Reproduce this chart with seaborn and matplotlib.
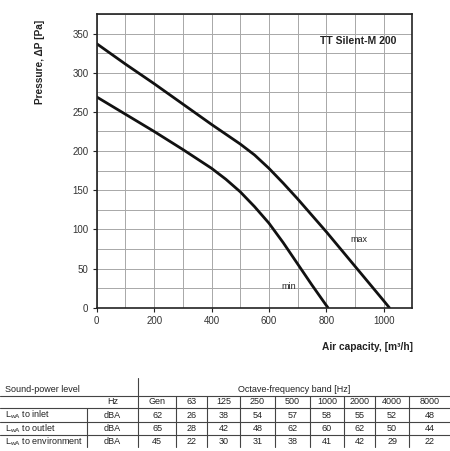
import numpy as np
import pandas as pd
import matplotlib
matplotlib.use("Agg")
import matplotlib.pyplot as plt
from matplotlib.ticker import MultipleLocator
import seaborn as sns

# fan curves
flow_max = [0, 100, 200, 300, 400, 500, 550, 600, 650, 700, 750, 800, 850, 900, 950, 1000, 1020]
pres_max = [337, 311, 286, 260, 234, 209, 195, 178, 159, 139, 118, 97, 75, 53, 31, 9, 0]
flow_min = [0, 100, 200, 300, 400, 450, 500, 550, 600, 650, 700, 750, 800, 806]
pres_min = [269, 247, 225, 202, 178, 164, 148, 129, 108, 83, 56, 29, 3, 0]

# sound power table
bands = ["Gen", "63", "125", "250", "500", "1000", "2000", "4000", "8000"]
row_names = ["to inlet", "to outlet", "to environment"]
lwa_inlet = [62, 26, 38, 54, 57, 58, 55, 52, 48]
lwa_outlet = [65, 28, 42, 48, 62, 60, 62, 50, 44]
lwa_env = [45, 22, 30, 31, 38, 41, 42, 29, 22]

sns.set_theme(style="white")
plt.rcParams['font.family'] = ['Liberation Sans', 'DejaVu Sans']
plt.rcParams['mathtext.default'] = 'regular'

df = pd.concat([
    pd.DataFrame({"flow": flow_max, "pressure": pres_max, "speed": "max"}),
    pd.DataFrame({"flow": flow_min, "pressure": pres_min, "speed": "min"}),
])

fig = plt.figure(figsize=(4.5, 4.51), dpi=100)
ax = fig.add_axes([96.8 / 450, 1 - 307.7 / 451, (412.3 - 96.8) / 450, (307.7 - 14) / 451])

sns.lineplot(data=df, x="flow", y="pressure", units="speed", estimator=None,
             color="#111111", linewidth=2.0, sort=False, ax=ax)

ax.set_xlim(0, 1100)
ax.set_ylim(0, 375)
ax.xaxis.set_major_locator(MultipleLocator(200))
ax.xaxis.set_minor_locator(MultipleLocator(100))
ax.yaxis.set_major_locator(MultipleLocator(50))
ax.yaxis.set_minor_locator(MultipleLocator(25))
ax.set_xticks([0, 200, 400, 600, 800, 1000])
ax.grid(True, which="both", color="#a8a8a8", linewidth=0.7)
ax.set_axisbelow(True)
ax.tick_params(which="major", direction="out", length=3, width=0.8, color="#222222",
               labelsize=7, labelcolor="#333333", pad=3, bottom=True, left=True)
ax.tick_params(which="minor", length=0)
for s in ax.spines.values():
    s.set_color("#222222")
    s.set_linewidth(1.2)
ax.set_xlabel("")
ax.set_ylabel("")

ax.text(1044, 341, "TT Silent-M 200", ha="right", va="center", fontsize=7.5,
        fontweight="bold", color="#222222")
ax.text(913, 87, "max", ha="center", va="center", fontsize=6.5, color="#222222")
ax.text(668, 27, "min", ha="center", va="center", fontsize=6.5, color="#222222")

fig.text(40 / 450, 1 - 62 / 451, "Pressure, ΔP [Pa]", rotation=90, ha="center", va="center",
         fontsize=7.3, fontweight="bold", color="#222222")
fig.text(413 / 450, 1 - 347 / 451, "Air capacity, [m³/h]", ha="right", va="center",
         fontsize=7.3, fontweight="bold", color="#222222")

# table drawn in pixel coordinates
tab = fig.add_axes([0, 0, 1, 1])
tab.set_xlim(0, 450)
tab.set_ylim(451, 0)
tab.axis("off")
seps = [138.3, 176, 207.3, 240, 275, 310, 344, 375, 409.3, 450]
lc = "#444444"
for y in [395.7, 408.3, 421.7, 435]:
    tab.plot([0, 450], [y, y], color=lc, linewidth=0.8)
tab.plot([138.3, 138.3], [378, 447], color=lc, linewidth=0.8)
for x in seps[1:-1]:
    tab.plot([x, x], [395.7, 447], color=lc, linewidth=0.8)
tab.plot([87.3, 87.3], [408.3, 447], color=lc, linewidth=0.8)

fs = 6.5
tc = "#222222"
tab.text(5, 389, "Sound-power level", ha="left", va="center", fontsize=fs, color=tc)
tab.text(294, 389, "Octave-frequency band [Hz]", ha="center", va="center", fontsize=fs, color=tc)
tab.text(112.5, 401.5, "Hz", ha="center", va="center", fontsize=fs, color=tc)
centers = [(a + b) / 2 for a, b in zip(seps[:-1], seps[1:])]
for c, b in zip(centers, bands):
    tab.text(c, 401.5, b, ha="center", va="center", fontsize=fs, color=tc)
row_y = [415, 428.3, 441.7]
for y, name, vals in zip(row_y, row_names, [lwa_inlet, lwa_outlet, lwa_env]):
    tab.text(5, y, "L$_{wA}$ " + name, ha="left", va="center", fontsize=fs, color=tc)
    tab.text(112.5, y, "dBA", ha="center", va="center", fontsize=fs, color=tc)
    for c, v in zip(centers, vals):
        tab.text(c, y, str(v), ha="center", va="center", fontsize=fs, color=tc)

fig.savefig("out.png", dpi=100)
